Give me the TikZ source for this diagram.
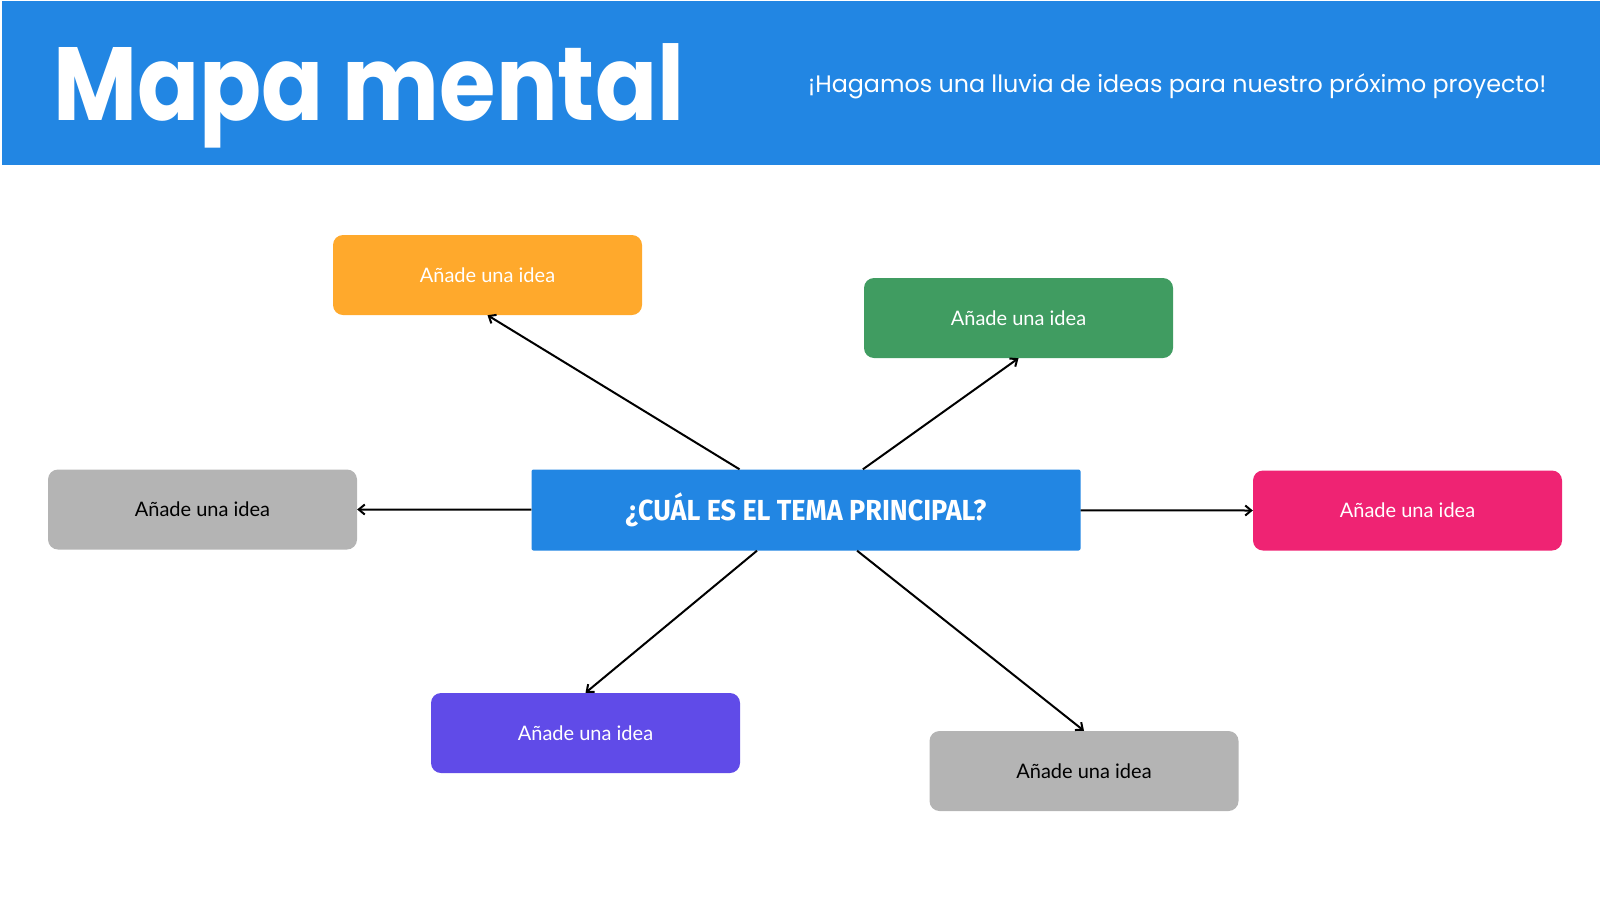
\documentclass[tikz,border=0pt]{standalone}
\usepackage{fontspec}
\setmainfont{Poppins}
\newfontfamily\titulofont[FakeStretch=0.88]{Poppins}
\newfontfamily\ideafont{Lato}
\newfontfamily\temafont[FakeStretch=0.93]{Fira Sans}
\usetikzlibrary{arrows.meta}
\definecolor{azul}{HTML}{2286E3}
\definecolor{naranja}{HTML}{FFA92C}
\definecolor{verde}{HTML}{409C61}
\definecolor{rosa}{HTML}{EF2373}
\definecolor{morado}{HTML}{604BE8}
\definecolor{gris}{HTML}{B4B4B4}
\tikzstyle{idea}=[rectangle,rounded corners=10pt,minimum width=309pt,minimum height=80pt,inner sep=0pt,font=\ideafont\fontsize{20}{24}\selectfont]
\tikzstyle{tema}=[rectangle,rounded corners=2pt,fill=azul,minimum width=549pt,minimum height=81pt,inner sep=0pt,text=white,font=\temafont\bfseries\fontsize{29}{34}\selectfont]
\tikzstyle{enlace}=[draw,line width=2pt,-{Straight Barb[length=6pt,width=10pt]}]

\begin{document}
\begin{tikzpicture}[x=1pt,y=-1pt]
    \useasboundingbox (0,0) rectangle (1600,900);
    % cabecera
    \fill[azul] (2,1) rectangle (1600,165);
    \node[anchor=base west,inner sep=0pt,text=white,font=\titulofont\bfseries\fontsize{104}{110}\selectfont] (titulo) at (53,120) {Mapa mental};
    \node[anchor=base west,inner sep=0pt,text=white,font=\fontsize{23.8}{28}\selectfont] (lema) at (808,92.5) {¡Hagamos una lluvia de ideas para nuestro próximo proyecto!};
    % tema
    \node[tema] (tema) at (806,510) {¿CUÁL ES EL TEMA PRINCIPAL?};
    % ideas
    \foreach \pos/\name/\fondo/\letra in {{(487.5,275)/a/naranja/white}, {(1018.5,318)/b/verde/white}, {(202.5,509.5)/c/gris/black}, {(1407.5,510.5)/d/rosa/white}, {(585.5,733)/e/morado/white}, {(1084,771)/f/gris/black}}
        \node[idea,fill=\fondo,text=\letra] (\name) at \pos {Añade una idea};
    % flechas
    \foreach \dest/\lado in {a/south, b/south, c/east, d/west, e/north, f/north}
        \path[enlace] (tema) -- (\dest.\lado);
\end{tikzpicture}
\end{document}
